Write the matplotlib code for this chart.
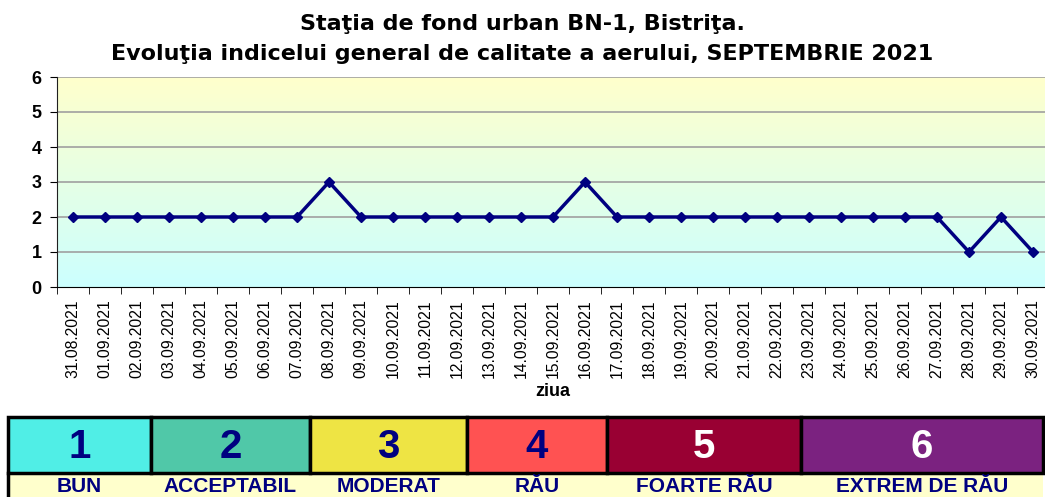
import numpy as np
import pandas as pd
import matplotlib.pyplot as plt
from matplotlib.patches import Rectangle

plt.rcParams['font.family'] = ['Liberation Sans', 'DejaVu Sans']

# Daily index values (31.08.2021 .. 30.09.2021)
days = pd.date_range('2021-08-31', '2021-09-30').strftime('%d.%m.%Y').tolist()
index_values = [2, 2, 2, 2, 2, 2, 2, 2, 3, 2, 2, 2, 2, 2, 2, 2, 3,
                2, 2, 2, 2, 2, 2, 2, 2, 2, 2, 2, 1, 2, 1]

# Legend table
levels = ['1', '2', '3', '4', '5', '6']
level_names = ['BUN', 'ACCEPTABIL', 'MODERAT', 'RĂU', 'FOARTE RĂU', 'EXTREM DE RĂU']
level_colors = ['#50EEE6', '#50C8A8', '#EEE444', '#FF5252', '#990033', '#7B2280']
level_text = ['#000080', '#000080', '#000080', '#000080', 'white', 'white']
col_edges = [8, 151, 310, 467, 607, 801, 1043]  # pixel positions of column borders

W, H = 1045, 497
fig = plt.figure(figsize=(W / 100, H / 100), dpi=100)

# main chart
ax = fig.add_axes([57 / W, (H - 287) / H, (1049 - 57) / W, 210 / H])
x = np.arange(len(days))
ax.set_xlim(-0.5, len(days) - 0.5)
ax.set_ylim(0, 6)

grad = np.linspace(0, 1, 256).reshape(-1, 1)
top = np.array([1.0, 1.0, 0.8])
bot = np.array([0.8, 1.0, 1.0])
img = bot + grad * (top - bot)
ax.imshow(img[:, None, :].repeat(2, axis=1), extent=[-0.5, len(days) - 0.5, 0, 6],
          origin='lower', aspect='auto', zorder=0)

for yv in range(1, 7):
    ax.axhline(yv, color='#A0A0A0', lw=1.2, zorder=1)

ax.plot(x, index_values, color='#000080', lw=2.5, marker='D', ms=5.5, zorder=3)

ax.set_yticks(range(0, 7))
ax.set_yticklabels([str(v) for v in range(0, 7)], fontsize=13, fontweight='bold')
ax.set_xticks(x)
ax.set_xticklabels(days, rotation=90, fontsize=11.3)
ax.set_xticks(np.arange(-0.5, len(days)), minor=True)
ax.tick_params(axis='x', which='major', length=0, pad=9)
ax.tick_params(axis='x', which='minor', length=5, direction='out', color='black')
ax.tick_params(axis='y', length=5, direction='out', pad=6)
for s in ['top', 'right']:
    ax.spines[s].set_visible(False)
ax.spines['left'].set_color('#202020')
ax.spines['bottom'].set_color('black')
ax.set_xlabel('ziua', fontsize=13, fontweight='bold', labelpad=3)

title_font = ['DejaVu Sans']
fig.text(0.5, 1 - 24 / H, 'Staţia de fond urban BN-1, Bistriţa.', ha='center', va='center',
         fontsize=16, fontweight='bold', family=title_font)
fig.text(0.5, 1 - 54 / H, 'Evoluţia indicelui general de calitate a aerului, SEPTEMBRIE 2021',
         ha='center', va='center', fontsize=16, fontweight='bold', family=title_font)

# legend table in pixel coordinates
tab = fig.add_axes([0, 0, 1, 1])
tab.set_xlim(0, W)
tab.set_ylim(H, 0)
tab.axis('off')
tab.add_patch(Rectangle((col_edges[0], 473), col_edges[-1] - col_edges[0], 30,
                        facecolor='#FFFFCC', edgecolor='none'))
for i in range(len(levels)):
    x0, x1 = col_edges[i], col_edges[i + 1]
    tab.add_patch(Rectangle((x0, 417), x1 - x0, 56, facecolor=level_colors[i],
                            edgecolor='black', lw=2.5))
    tab.text((x0 + x1) / 2, 447, levels[i], ha='center', va='center', fontsize=29,
             fontweight='bold', color=level_text[i])
    tab.text((x0 + x1) / 2, 492.5, level_names[i], ha='center', va='baseline', fontsize=15,
             fontweight='bold', color='#000080')
tab.plot([col_edges[0], col_edges[0]], [473, 497], color='black', lw=2.5)

fig.savefig('out.png', dpi=100)
